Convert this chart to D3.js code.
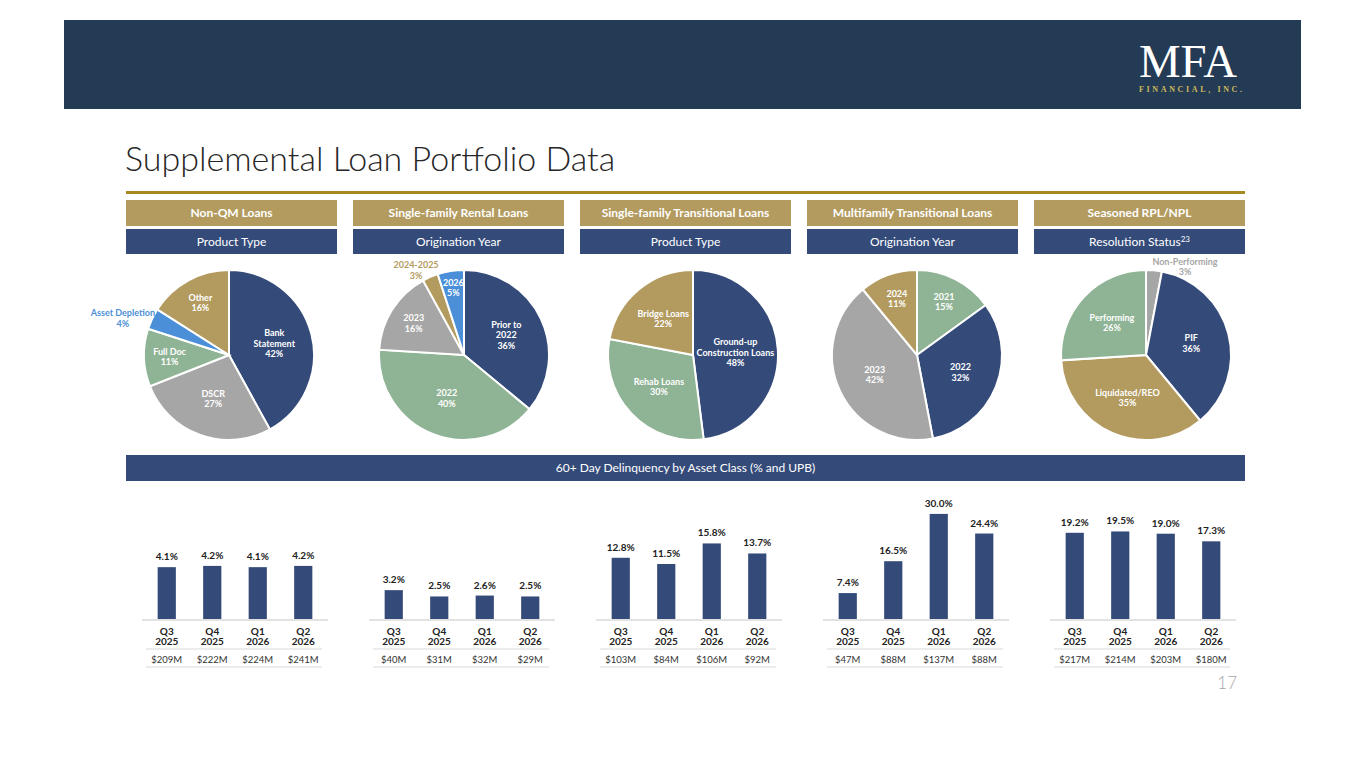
<!DOCTYPE html>
<html>
<head>
<meta charset="utf-8">
<script src="https://cdn.jsdelivr.net/npm/d3@7"></script>
<style>
  body { margin: 0; background: #fff; }
  svg { display: block; font-family: Lato, "Open Sans", sans-serif; }
</style>
</head>
<body>
<div id="slide"></div>
<script>
// section headers
var sectionTitles = ["Non-QM Loans", "Single-family Rental Loans", "Single-family Transitional Loans",
                     "Multifamily Transitional Loans", "Seasoned RPL/NPL"];
var sectionSubtitles = ["Product Type", "Origination Year", "Product Type", "Origination Year", "Resolution Status"];
var subtitleNotes = ["", "", "", "", "23"];

// pie data (clockwise from 12 o'clock)
var nonQmLabels = ["Bank\nStatement", "DSCR", "Full Doc", "Asset Depletion", "Other"];
var nonQmShares = [42, 27, 11, 4, 16];
var sfrLabels = ["Prior to\n2022", "2022", "2023", "2024-2025", "2026"];
var sfrShares = [36, 40, 16, 3, 5];
var sftLabels = ["Ground-up\nConstruction Loans", "Rehab Loans", "Bridge Loans"];
var sftShares = [48, 30, 22];
var mfLabels = ["2021", "2022", "2023", "2024"];
var mfShares = [15, 32, 42, 11];
var rplLabels = ["Non-Performing", "PIF", "Liquidated/REO", "Performing"];
var rplShares = [3, 36, 35, 26];

// 60+ day delinquency (%) and UPB ($M)
var quarters = ["Q3 2025", "Q4 2025", "Q1 2026", "Q2 2026"];
var nonQmDelinq = [4.1, 4.2, 4.1, 4.2];
var nonQmUpb = [209, 222, 224, 241];
var sfrDelinq = [3.2, 2.5, 2.6, 2.5];
var sfrUpb = [40, 31, 32, 29];
var sftDelinq = [12.8, 11.5, 15.8, 13.7];
var sftUpb = [103, 84, 106, 92];
var mfDelinq = [7.4, 16.5, 30.0, 24.4];
var mfUpb = [47, 88, 137, 88];
var rplDelinq = [19.2, 19.5, 19.0, 17.3];
var rplUpb = [217, 214, 203, 180];

function init(){
    var W = 1365, H = 768;
    var navy = "#344b7a", gold = "#b39b5f", gray = "#a6a6a6", green = "#8fb495", blue = "#4b8fd8";

    var pies = [
        {labels: nonQmLabels, values: nonQmShares, colors: [navy, gray, green, blue, gold]},
        {labels: sfrLabels, values: sfrShares, colors: [navy, green, gray, gold, blue]},
        {labels: sftLabels, values: sftShares, colors: [navy, green, gold]},
        {labels: mfLabels, values: mfShares, colors: [green, navy, gray, gold]},
        {labels: rplLabels, values: rplShares, colors: [gray, navy, gold, green]}
    ];
    // each panel is scaled on its own, like the source slide
    var bars = [
        {values: nonQmDelinq, upb: nonQmUpb, max: 8.7},
        {values: sfrDelinq, upb: sfrUpb, max: 12.2},
        {values: sftDelinq, upb: sftUpb, max: 23},
        {values: mfDelinq, upb: mfUpb, max: 31.4},
        {values: rplDelinq, upb: rplUpb, max: 24.5}
    ];

    var colX = function(i){ return 126 + i * 227; };
    var colW = 211;

    var svg = d3.select("#slide").append("svg")
        .attr("width", W).attr("height", H)
        .attr("viewBox", "0 0 " + W + " " + H);

    // header band + logo
    svg.append("rect").attr("x", 64).attr("y", 20).attr("width", 1237).attr("height", 89)
        .attr("fill", "#243b55");
    svg.append("text").attr("x", 1139).attr("y", 77)
        .attr("font-family", "'Liberation Serif', 'DejaVu Serif', serif")
        .attr("font-size", 46).attr("fill", "#fff")
        .attr("textLength", 98).attr("lengthAdjust", "spacingAndGlyphs")
        .text("MFA");
    svg.append("text").attr("x", 1139).attr("y", 92)
        .attr("font-family", "'Liberation Serif', 'DejaVu Serif', serif")
        .attr("font-size", 8).attr("font-weight", 700).attr("fill", "#cdb95c")
        .attr("textLength", 103).attr("lengthAdjust", "spacing")
        .text("FINANCIAL, INC.");

    // title + rule
    svg.append("text").attr("x", 125).attr("y", 171)
        .attr("font-size", 34).attr("font-weight", 300).attr("fill", "#262626")
        .text("Supplemental Loan Portfolio Data");
    svg.append("rect").attr("x", 126).attr("y", 191).attr("width", 1119).attr("height", 3)
        .attr("fill", "#a6891f");

    // section header boxes
    sectionTitles.forEach(function(t, i){
        svg.append("rect").attr("x", colX(i)).attr("y", 200).attr("width", colW).attr("height", 26)
            .attr("fill", gold);
        svg.append("text").attr("x", colX(i) + colW / 2).attr("y", 217)
            .attr("text-anchor", "middle").attr("font-size", 12).attr("font-weight", 700)
            .attr("fill", "#fff").text(t);
        svg.append("rect").attr("x", colX(i)).attr("y", 229).attr("width", colW).attr("height", 25)
            .attr("fill", navy);
        var st = svg.append("text").attr("x", colX(i) + colW / 2).attr("y", 246)
            .attr("text-anchor", "middle").attr("font-size", 12)
            .attr("fill", "#fff");
        st.append("tspan").text(sectionSubtitles[i]);
        if (subtitleNotes[i]) {
            st.append("tspan").attr("font-size", 8).attr("dy", -4).text(subtitleNotes[i]);
        }
    });

    // pies
    var R = 85;
    var pieOffsets = [103, 111, 113, 110, 112];
    var pieY = 355;
    var pie = d3.pie().sort(null).value(function(d){ return d; });
    var arc = d3.arc().innerRadius(0).outerRadius(R);
    var outsideNudge = {"Non-Performing": [28, 7], "2024-2025": [-6, 3], "Asset Depletion": [2, 4]};

    pies.forEach(function(p, i){
        var cx = colX(i) + pieOffsets[i];
        var g = svg.append("g").attr("transform", "translate(" + cx + "," + pieY + ")");
        var arcs = pie(p.values);

        g.selectAll("path")
            .data(arcs)
            .enter()
            .append("path")
            .attr("d", arc)
            .attr("fill", function(d, j){ return p.colors[j]; })
            .attr("stroke", "#fff")
            .attr("stroke-width", 2);

        arcs.forEach(function(d, j){
            var mid = (d.startAngle + d.endAngle) / 2;
            var dx = Math.sin(mid), dy = -Math.cos(mid);
            var lines = p.labels[j].split("\n").concat([d.value + "%"]);
            var lh = 10.5;
            var outside = d.value <= 4;
            var tx, ty, fill;
            if (outside) {
                var maxLen = d3.max(lines, function(l){ return l.length; });
                var halfW = maxLen * 2.3;
                var halfH = lines.length * lh / 2;
                tx = R * dx + dx * halfW;
                ty = R * dy + dy * halfH;
                var n = outsideNudge[p.labels[j]] || [0, 0];
                tx += n[0]; ty += n[1];
                fill = p.colors[j];
            } else {
                var k = d.value < 8 ? 0.8 : (d.value < 20 ? 0.7 : (d.value >= 45 ? 0.5 : 0.55));
                tx = R * k * dx;
                ty = R * k * dy;
                fill = "#fff";
            }
            var t = g.append("text")
                .attr("text-anchor", "middle")
                .attr("font-size", 9)
                .attr("font-weight", 700)
                .attr("fill", fill);
            lines.forEach(function(l, m){
                t.append("tspan")
                    .attr("x", tx)
                    .attr("y", ty - (lines.length - 1) * lh / 2 + m * lh + 3.2)
                    .text(l);
            });
        });
    });

    // delinquency band
    svg.append("rect").attr("x", 126).attr("y", 455).attr("width", 1119).attr("height", 26)
        .attr("fill", navy);
    svg.append("text").attr("x", 126 + 1119 / 2).attr("y", 472)
        .attr("text-anchor", "middle").attr("font-size", 12).attr("fill", "#fff")
        .text("60+ Day Delinquency by Asset Class (% and UPB)");

    // bar panels
    var base = 619, plotH = 110;
    bars.forEach(function(b, i){
        var x0 = colX(i) + 18, x1 = colX(i) + 200;
        var xScale = d3.scaleBand()
            .domain(d3.range(quarters.length))
            .range([x0, x1])
            .paddingInner(0.6)
            .paddingOuter(0.3);
        var yScale = d3.scaleLinear()
            .domain([0, b.max])
            .range([base, base - plotH]);

        var g = svg.append("g");

        g.selectAll("rect")
            .data(b.values)
            .enter()
            .append("rect")
            .attr("x", function(d, j){ return xScale(j); })
            .attr("y", function(d){ return yScale(d); })
            .attr("width", xScale.bandwidth())
            .attr("height", function(d){ return base - yScale(d); })
            .attr("fill", navy);

        g.selectAll("text.val")
            .data(b.values)
            .enter()
            .append("text")
            .attr("class", "val")
            .attr("x", function(d, j){ return xScale(j) + xScale.bandwidth() / 2; })
            .attr("y", function(d){ return yScale(d) - 7; })
            .attr("text-anchor", "middle")
            .attr("font-size", 10).attr("font-weight", 700).attr("fill", "#222")
            .text(function(d){ return d.toFixed(1) + "%"; });

        // baseline + table rules
        g.append("line").attr("x1", x0 - 2).attr("x2", x1 + 2).attr("y1", base + 1).attr("y2", base + 1)
            .attr("stroke", "#d9d9d9").attr("stroke-width", 1.5);
        [649, 667].forEach(function(y){
            g.append("line").attr("x1", x0 + 2).attr("x2", x1 - 4).attr("y1", y).attr("y2", y)
                .attr("stroke", "#d9d9d9").attr("stroke-width", 1);
        });

        quarters.forEach(function(q, j){
            var cx = xScale(j) + xScale.bandwidth() / 2;
            var parts = q.split(" ");
            var t = g.append("text").attr("text-anchor", "middle")
                .attr("font-size", 10).attr("font-weight", 700).attr("fill", "#222");
            parts.forEach(function(p, m){
                t.append("tspan").attr("x", cx).attr("y", 634.5 + m * 10.5).text(p);
            });
            g.append("text").attr("x", cx).attr("y", 662.5)
                .attr("text-anchor", "middle").attr("font-size", 9.5).attr("fill", "#333")
                .text("$" + b.upb[j] + "M");
        });
    });

    // page number
    svg.append("text").attr("x", 1237).attr("y", 689)
        .attr("text-anchor", "end").attr("font-size", 17).attr("font-weight", 300)
        .attr("fill", "#a6a6a6").text("17");
}

window.onload = init;
</script>
</body>
</html>
